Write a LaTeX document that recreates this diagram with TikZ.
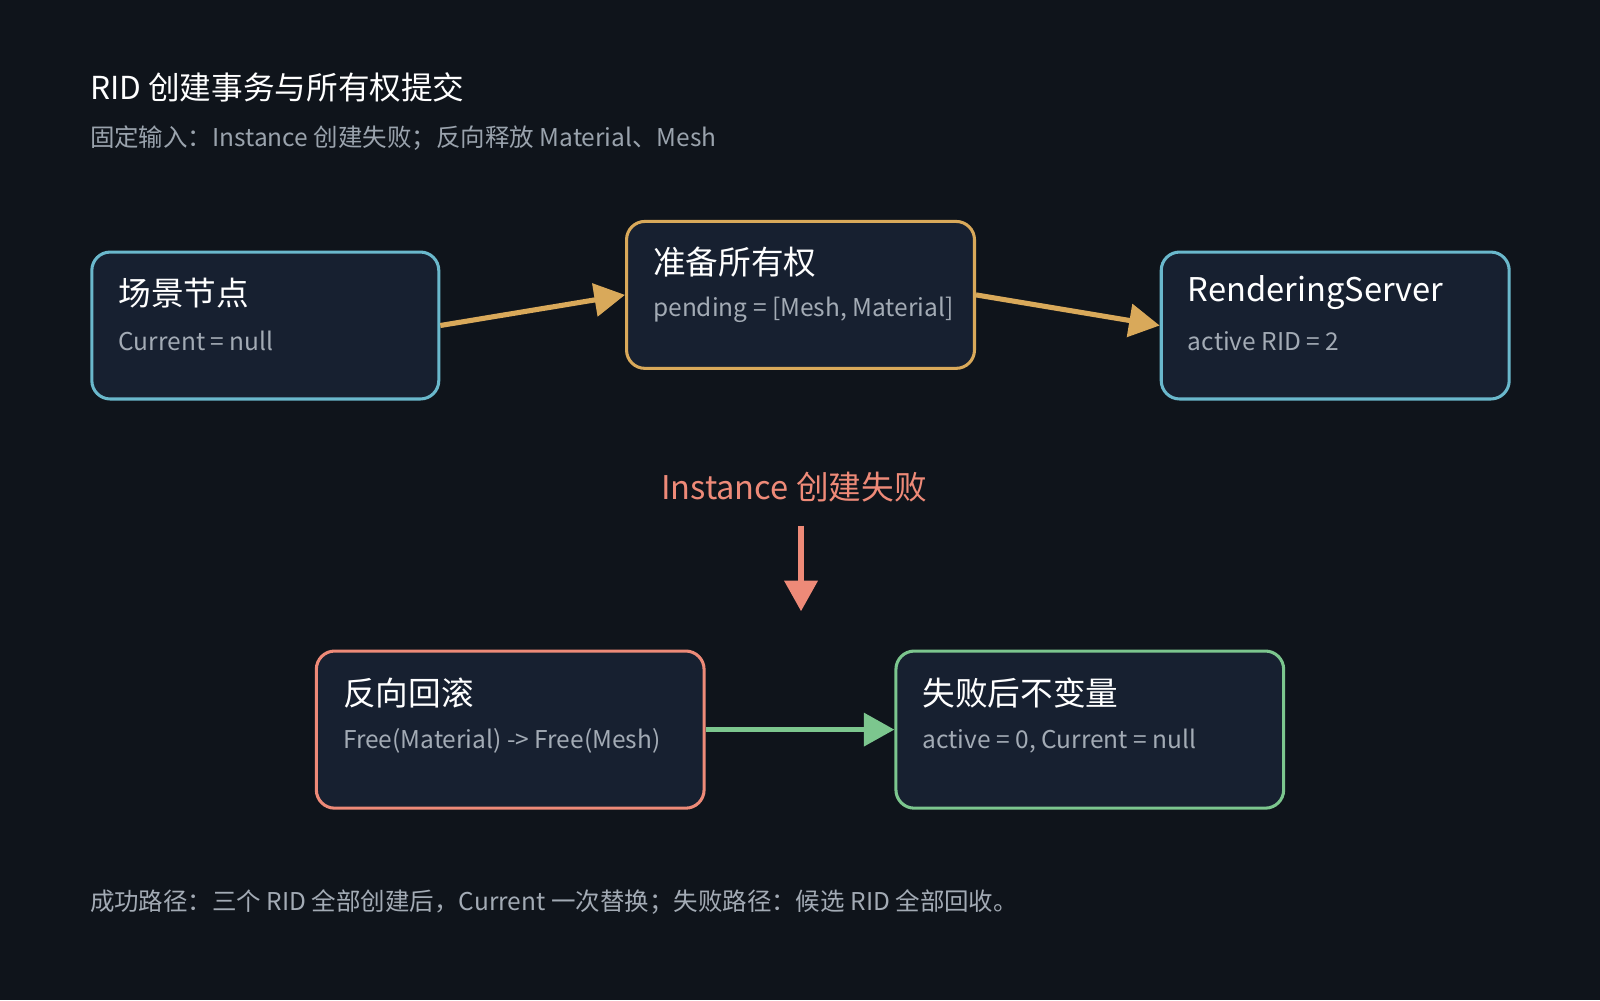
\documentclass[tikz,border=0pt]{standalone}
\usepackage{fontspec}
\setmainfont{Noto Sans CJK SC}
\usetikzlibrary{arrows.meta,calc}
\definecolor{bg}{HTML}{0F141B}
\definecolor{boxf}{HTML}{172030}
\definecolor{cblue}{HTML}{6AB8CC}
\definecolor{corange}{HTML}{D9A95A}
\definecolor{cred}{HTML}{EE8A78}
\definecolor{cgreen}{HTML}{7CC68E}
\definecolor{tsub}{HTML}{A3ABB5}
\definecolor{tgray}{HTML}{9AA3AD}
\begin{document}
\begin{tikzpicture}[x=1pt,y=-1pt,
 box/.style={draw,line width=3pt,fill=boxf,rounded corners=18pt},
 bt/.style={anchor=west,text=white,font=\fontsize{32}{36}\selectfont,inner sep=0},
 bs/.style={anchor=west,text=tsub,font=\fontsize{24}{28}\selectfont,inner sep=0},
 arr/.style={line width=5pt,-{Triangle[length=30pt,width=32pt]}}]
\fill[bg] (0,0) rectangle (1568,980);
\useasboundingbox (0,0) rectangle (1568,980);
\node[anchor=west,text=white,font=\fontsize{31}{36}\selectfont,inner sep=0] (title) at (88,86) {RID 创建事务与所有权提交};
\node[anchor=west,text=tgray,font=\fontsize{24}{28}\selectfont,inner sep=0] (sub) at (88,135) {固定输入：Instance 创建失败；反向释放 Material、Mesh};
\node[box,draw=cblue,minimum width=340pt,minimum height=144pt] (a) at (260,319) {};
\node[box,draw=corange,minimum width=341pt,minimum height=144pt] (b) at (784.5,289) {};
\node[box,draw=cblue,minimum width=341pt,minimum height=144pt] (c) at (1308.5,319) {};
\node[box,draw=cred,minimum width=380pt,minimum height=154pt] (d) at (500,715) {};
\node[box,draw=cgreen,minimum width=380pt,minimum height=154pt] (e) at (1068,715) {};
\node[bt] (at) at (116,287) {场景节点};
\node[bs] (as) at (116,334) {Current = null};
\node[bt] (bt1) at (640,257) {准备所有权};
\node[bs] (bs1) at (640,304) {pending = [Mesh, Material]};
\node[bt] (ct) at (1164,287) {RenderingServer};
\node[bs] (cs) at (1164,334) {active RID = 2};
\node[bt] (dt) at (336,679) {反向回滚};
\node[bs] (ds) at (336,726) {Free(Material) -> Free(Mesh)};
\node[bt] (et) at (904,679) {失败后不变量};
\node[bs] (es) at (904,726) {active = 0, Current = null};
\draw[arr,corange] (a.east) -- (b.west);
\draw[arr,corange] (b.east) -- (c.west);
\draw[arr,cgreen] (d.east) -- (e.west);
\node[text=cred,font=\fontsize{32}{36}\selectfont,inner sep=0] (f) at (778,477) {Instance 创建失败};
\coordinate (f1) at (785,515);
\coordinate (f2) at (785,599);
\draw[arr,cred] (f1) -- (f2);
\node[anchor=west,text=tsub,font=\fontsize{24}{28}\selectfont,inner sep=0] (foot) at (88,884) {成功路径：三个 RID 全部创建后，Current 一次替换；失败路径：候选 RID 全部回收。};
\end{tikzpicture}
\end{document}
